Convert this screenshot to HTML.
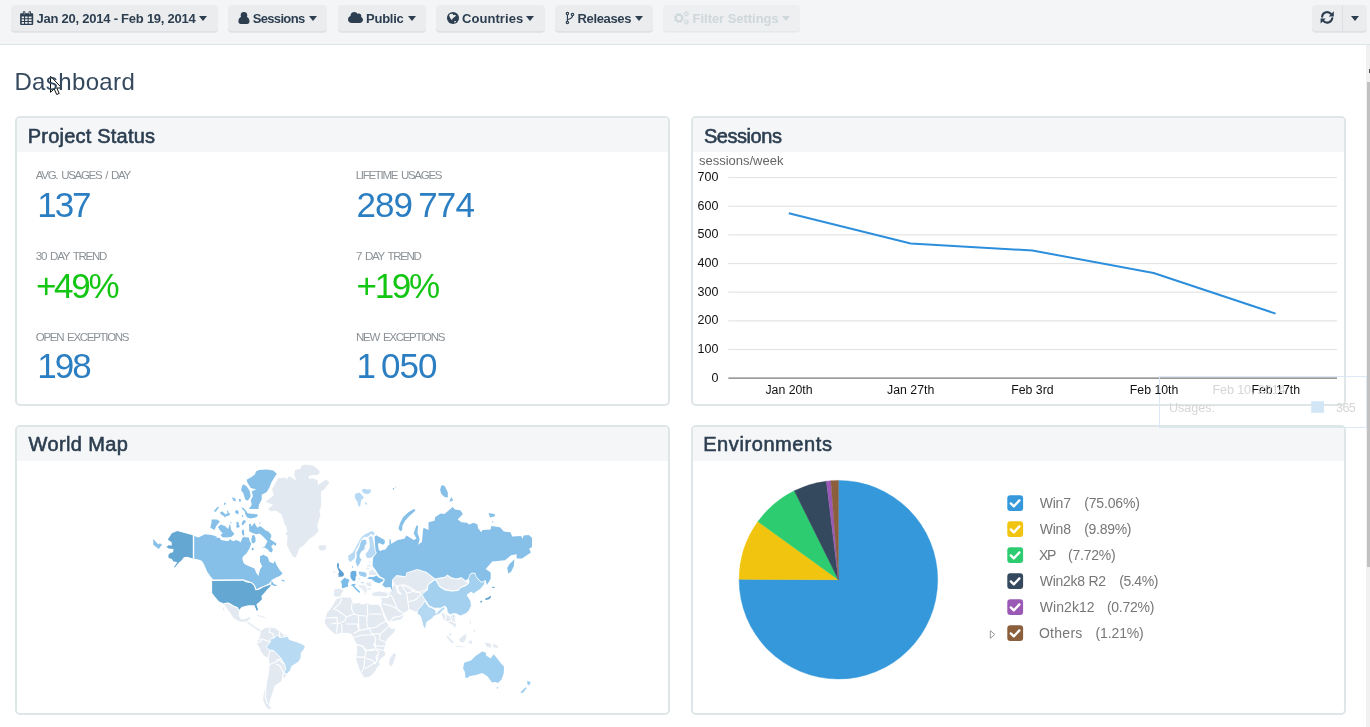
<!DOCTYPE html>
<html lang="en">
<head>
<meta charset="utf-8">
<title>Dashboard</title>
<style>
*{box-sizing:border-box;margin:0;padding:0}
html,body{width:1370px;height:727px;overflow:hidden;background:#fff}
body{font-family:"Liberation Sans","DejaVu Sans",sans-serif;color:#34495e;position:relative}
.t{position:absolute;white-space:pre}
#toolbar{position:absolute;left:0;top:0;width:1370px;height:45px;background:#f4f5f7;border-bottom:1px solid #dde5e7}
.btn{position:absolute;top:4.5px;height:26.3px;background:#ebecee;border-radius:4px;box-shadow:0 1.8px 0 #dfe1e5}
.ic{position:absolute;fill:#2c3e50;overflow:visible}
.caret{position:absolute;top:15.9px;width:0;height:0;border-left:4.3px solid transparent;border-right:4.3px solid transparent;border-top:5.2px solid #2c3e50;margin-left:-0.3px}
.panel{position:absolute;border:2px solid #dee6e8;border-radius:5px;background:#fff;width:654.6px;height:289.5px;overflow:hidden}
.panel .hd{position:absolute;left:0;top:0;right:0;height:34px;background:#f4f6f8}
</style>
</head>
<body>
<div class="panel" style="left:15px;top:116px"><div class="hd"></div></div>
<div class="panel" style="left:691px;top:116px"><div class="hd"></div></div>
<div class="panel" style="left:15px;top:425px"><div class="hd"></div></div>
<div class="panel" style="left:691px;top:425px"><div class="hd"></div></div>
<div id="toolbar">
<div class="btn" style="left:10.5px;width:207px"></div>
<div class="btn" style="left:228.2px;width:98.5px"></div>
<div class="btn" style="left:338.4px;width:87.3px"></div>
<div class="btn" style="left:436.4px;width:108.2px"></div>
<div class="btn" style="left:555.4px;width:97.5px"></div>
<div class="btn" style="left:663.3px;width:137.2px;background:#eeeff1;box-shadow:0 1.5px 0 #e6e8eb"></div>
<div class="btn" style="left:1312.2px;width:54.8px"></div>
<div style="position:absolute;left:1342.2px;top:4.5px;width:0.9px;height:26.3px;background:#dcdfe3"></div>
<!-- calendar -->
<svg class="ic" style="left:0;top:0;width:60px;height:40px" viewBox="0 0 60 40"><path fill-rule="evenodd" d="M20.1,14.3a1,1 0 0 1 1,-1h11.1a1,1 0 0 1 1,1v9.7a1,1 0 0 1 -1,1h-11.1a1,1 0 0 1 -1,-1zM21.7,16.4v1.9h2.3v-1.9zM25.1,16.4v1.9h2.5v-1.9zM28.7,16.4v1.9h2.9v-1.9zM21.7,19.2v1.9h2.3v-1.9zM25.1,19.2v1.9h2.5v-1.9zM28.7,19.2v1.9h2.9v-1.9zM21.7,22v1.7h2.3v-1.7zM25.1,22v1.7h2.5v-1.7zM28.7,22v1.7h2.9v-1.7z"/><rect x="22.9" y="11.2" width="2.4" height="4" rx="0.8"/><rect x="28.6" y="11.2" width="2.4" height="4" rx="0.8"/><rect x="23.8" y="12" width="0.6" height="2.4" fill="#ebecee"/><rect x="29.5" y="12" width="0.6" height="2.4" fill="#ebecee"/></svg>
<!-- user -->
<svg class="ic" style="left:230px;top:0;width:30px;height:40px" viewBox="230 0 30 40"><circle cx="243.95" cy="15.3" r="3.25"/><path d="M238.4,21.6c0,-2.9 1.3,-4.7 3.3,-4.9c.6,.6 1.4,.9 2.25,.9s1.65,-.3 2.25,-.9c2,.2 3.3,2 3.3,4.9c0,1.5 -1,2.4 -2.3,2.4h-6.5c-1.3,0 -2.3,-.9 -2.3,-2.4z"/></svg>
<!-- cloud -->
<svg class="ic" style="left:348.2px;top:11.9px;width:15px;height:11px" viewBox="0 32 576 448" preserveAspectRatio="none"><path d="M0 336c0 79.500 64.500 144 144 144h304c70.700 0 128-57.300 128-128 0-51.600-30.500-96.100-74.500-116.300 6.700-13.100 10.500-28 10.500-43.700 0-53-43-96-96-96-17.700 0-34.200 4.800-48.400 13.100C343.500 63.300 295.400 32 240 32 160.500 32 96 96.500 96 176c0 8 .7 15.900 1.900 23.500C41 218.700 0 272.600 0 336"/></svg>
<!-- globe -->
<svg class="ic" style="left:440px;top:0;width:30px;height:40px" viewBox="440 0 30 40"><circle cx="453" cy="18.05" r="6.05"/><path fill="#ebecee" d="M449.1,15.2L450.2,13.9L452.7,13.7L453.4,15.2L454.4,14.7L456.1,15.4L454.6,16.9L453.4,17.7L452.4,18.9L451.9,19.9L451.2,19.4L449.9,17.4ZM454.1,21.6L455.1,21L456.4,21.25L455.6,22.1L454.4,22.7Z"/><circle cx="453.4" cy="14.3" r="0.5"/></svg>
<!-- code fork -->
<svg class="ic" style="left:560px;top:0;width:20px;height:40px;fill:none" viewBox="560 0 20 40" stroke="#2c3e50" stroke-width="1.15" stroke-linecap="round"><path d="M567.4,14.8V21.2M572.5,15.8c0,2.7 -2.6,3 -5,3.9"/><circle cx="567.4" cy="13.5" r="1.2" fill="#ebecee"/><circle cx="567.4" cy="22.5" r="1.2" fill="#ebecee"/><circle cx="572.5" cy="14.5" r="1.2" fill="#ebecee"/></svg>
<!-- cogs (disabled) -->
<svg class="ic" style="left:670px;top:0;width:24px;height:40px;fill:none" viewBox="670 0 24 40" stroke="#cfd8db"><circle cx="678.9" cy="18" r="3.2" stroke-width="1.9"/><circle cx="678.9" cy="18" r="4.3" stroke-width="1.3" stroke-dasharray="1.7 1.677"/><circle cx="686.3" cy="13.9" r="1.6" stroke-width="1"/><circle cx="686.3" cy="13.9" r="2.3" stroke-width="0.9" stroke-dasharray="0.9 0.906"/><circle cx="686.3" cy="22" r="1.6" stroke-width="1"/><circle cx="686.3" cy="22" r="2.3" stroke-width="0.9" stroke-dasharray="0.9 0.906"/></svg>
<!-- refresh -->
<svg class="ic" style="left:1315px;top:0;width:24px;height:40px" viewBox="1315 0 24 40"><path fill="none" stroke="#2c3e50" stroke-width="2.1" stroke-linecap="round" d="M1322.1,16.6A5.15,5.15 0 0 1 1331.3,14.2M1332.3,18.2A5.15,5.15 0 0 1 1323.1,20.6"/><path d="M1333.8,11.3V16.4H1328.7ZM1320.6,23.6V18.5H1325.7Z"/></svg>
<div class="caret" style="left:198.8px"></div>
<div class="caret" style="left:308.8px"></div>
<div class="caret" style="left:407.8px"></div>
<div class="caret" style="left:526.5px"></div>
<div class="caret" style="left:634.8px"></div>
<div class="caret" style="left:782.7px;border-top-color:#ced7da"></div>
<div class="caret" style="left:1351.3px"></div>
</div>
<!-- scrollbar -->
<div style="position:absolute;left:1366px;top:45px;width:4px;height:682px;background:#f1f1f1"></div>
<div style="position:absolute;left:1367px;top:82px;width:3px;height:485px;background:#c1c1c1"></div>
<div style="position:absolute;left:1368.7px;top:69.3px;width:1.3px;height:4.2px;background:#505050"></div>
<svg style="position:absolute;left:0;top:0" width="1370" height="727" viewBox="0 0 1370 727">
<rect x="728.3" y="377.40" width="608.7" height="1.5" fill="#8f8f8f"/>
<rect x="728.3" y="348.93" width="608.7" height="1.2" fill="#e4e4e4"/>
<rect x="728.3" y="320.26" width="608.7" height="1.2" fill="#e4e4e4"/>
<rect x="728.3" y="291.59" width="608.7" height="1.2" fill="#e4e4e4"/>
<rect x="728.3" y="262.92" width="608.7" height="1.2" fill="#e4e4e4"/>
<rect x="728.3" y="234.25" width="608.7" height="1.2" fill="#e4e4e4"/>
<rect x="728.3" y="205.58" width="608.7" height="1.2" fill="#e4e4e4"/>
<rect x="728.3" y="176.91" width="608.7" height="1.2" fill="#e4e4e4"/>
<polyline fill="none" stroke="#2d8fdc" stroke-width="2" stroke-linejoin="round" points="788.8,213.2 910.7,243.5 1032.4,250.5 1153.6,273.0 1275.6,313.6"/>
<path d="M838.4,579.7L838.40,480.40A99.3,99.3 0 1 1 739.10,579.33Z" fill="#3498db" stroke="#3498db" stroke-width="0.4" stroke-linejoin="round"/>
<path d="M838.4,579.7L739.10,579.33A99.3,99.3 0 0 1 757.88,521.59Z" fill="#f1c40f" stroke="#f1c40f" stroke-width="0.4" stroke-linejoin="round"/>
<path d="M838.4,579.7L757.88,521.59A99.3,99.3 0 0 1 794.27,490.75Z" fill="#2ecc71" stroke="#2ecc71" stroke-width="0.4" stroke-linejoin="round"/>
<path d="M838.4,579.7L794.27,490.75A99.3,99.3 0 0 1 826.39,481.13Z" fill="#34495e" stroke="#34495e" stroke-width="0.4" stroke-linejoin="round"/>
<path d="M838.4,579.7L826.39,481.13A99.3,99.3 0 0 1 830.86,480.69Z" fill="#9b59b6" stroke="#9b59b6" stroke-width="0.4" stroke-linejoin="round"/>
<path d="M838.4,579.7L830.86,480.69A99.3,99.3 0 0 1 838.40,480.40Z" fill="#8b5e3c" stroke="#8b5e3c" stroke-width="0.4" stroke-linejoin="round"/>
<rect x="1007.3" y="495.2" width="15.8" height="15.8" rx="3" fill="#3498db"/>
<path d="M1010.8,503.4l3,3 5.6,-6" fill="none" stroke="#fff" stroke-width="2.3" stroke-linecap="round" stroke-linejoin="round"/>
<rect x="1007.3" y="521.2" width="15.8" height="15.8" rx="3" fill="#f1c40f"/>
<path d="M1010.8,529.4l3,3 5.6,-6" fill="none" stroke="#fff" stroke-width="2.3" stroke-linecap="round" stroke-linejoin="round"/>
<rect x="1007.3" y="547.2" width="15.8" height="15.8" rx="3" fill="#2ecc71"/>
<path d="M1010.8,555.4l3,3 5.6,-6" fill="none" stroke="#fff" stroke-width="2.3" stroke-linecap="round" stroke-linejoin="round"/>
<rect x="1007.3" y="573.2" width="15.8" height="15.8" rx="3" fill="#34495e"/>
<path d="M1010.8,581.4l3,3 5.6,-6" fill="none" stroke="#fff" stroke-width="2.3" stroke-linecap="round" stroke-linejoin="round"/>
<rect x="1007.3" y="599.2" width="15.8" height="15.8" rx="3" fill="#9b59b6"/>
<path d="M1010.8,607.4l3,3 5.6,-6" fill="none" stroke="#fff" stroke-width="2.3" stroke-linecap="round" stroke-linejoin="round"/>
<rect x="1007.3" y="625.2" width="15.8" height="15.8" rx="3" fill="#8b5e3c"/>
<path d="M1010.8,633.4l3,3 5.6,-6" fill="none" stroke="#fff" stroke-width="2.3" stroke-linecap="round" stroke-linejoin="round"/>
<path d="M990.3,630.6L994.8,634.5L990.3,638.4Z" fill="none" stroke="#9a9a9a" stroke-width="1"/>
<rect id="swatch" x="1311.2" y="401.2" width="12.8" height="11.6" fill="#d3e6f6"/>
<path id="cursor" d="M50.5,76.2V92.3l3.7,-3.4 2.5,5.6 2.5,-1.1 -2.4,-5.4h5z" fill="#fff" stroke="#111" stroke-width="1" stroke-linejoin="round"/>
</svg>
<div style="position:absolute;left:1159px;top:375.5px;width:207.5px;height:52px;border:1px solid #d6e7f4;opacity:.9"></div>
<svg style="position:absolute;left:0;top:0" width="1370" height="727" viewBox="0 0 1370 727" stroke="#fff" stroke-width="0.9" stroke-linejoin="round">
<path fill="#86c0e8" stroke="none" d="M255.9,471.6L258.9,469.9L266.7,469.4L273.3,470.5L276.8,473.8L274.4,477.6L271.6,482.0L269.4,487.5L266.7,491.9L261.7,494.7L261.7,499.6L258.9,505.1L258.4,509.0L249.0,509.0L251.8,504.6L250.7,500.2L252.9,496.3L251.8,491.4L256.2,489.2L250.7,488.1L247.4,482.6L246.6,479.8L252.3,476.5L255.1,474.3Z"/>
<path fill="#86c0e8" stroke="none" d="M243.5,484.2L246.8,486.4L249.6,490.8L250.7,496.3L247.9,500.7L245.2,499.6L243.5,493.6L241.1,490.3L241.9,486.4Z"/>
<path fill="#86c0e8" stroke="none" d="M232.0,497.2L235.3,498.5L235.8,501.6L233.1,500.5Z"/>
<path fill="#86c0e8" stroke="none" d="M238.9,499.1L240.8,499.1L240.8,501.8L239.1,501.6Z"/>
<path fill="#86c0e8" stroke="none" d="M224.0,502.9L225.9,502.4L225.4,504.6L224.0,504.9Z"/>
<path fill="#86c0e8" stroke="none" d="M213.6,511.2L217.7,506.8L219.1,507.3L215.8,511.7Z"/>
<path fill="#86c0e8" stroke="none" d="M211.6,519.4L217.1,519.6L219.9,521.6L216.6,525.5L214.4,529.9L210.3,527.7L211.4,523.3Z"/>
<path fill="#65a7d3" stroke="none" d="M177.3,530.9L192.8,535.3L192.8,558.4L187.2,556.8L183.9,557.2L181.4,560.5L178.5,563.0L174.8,567.5L174.1,567.1L177.3,562.2L173.1,561.3L171.9,558.9L168.6,558.0L168.3,555.1L170.2,553.1L173.1,552.3L173.5,548.9L168.6,548.5L166.5,546.9L168.6,545.2L171.9,545.6L171.6,542.3L167.8,539.5L171.9,533.3Z"/>
<path fill="#86c0e8" stroke="none" d="M153.3,539.0L158.3,544.4L159.9,543.2L162.0,544.8L158.7,548.9L153.3,544.8Z"/>
<path fill="#86c0e8" stroke="none" d="M194.2,536.0L198.4,537.6L205.0,534.3L211.6,534.9L217.1,536.5L215.0,537.2L220.0,538.0L220.8,540.1L228.2,541.3L230.3,538.9L231.5,540.5L234.0,541.3L235.6,540.1L238.9,540.9L240.6,542.6L242.3,538.0L244.3,536.4L245.6,537.6L246.8,537.2L248.9,537.6L249.7,541.3L251.3,543.4L249.7,547.9L246.8,552.9L243.1,556.6L242.3,558.7L243.5,562.8L244.6,564.0L249.0,566.2L254.5,568.4L256.2,572.8L258.4,576.1L260.0,569.5L262.2,566.2L260.0,561.8L260.0,556.3L263.3,554.7L267.8,556.9L269.4,561.8L273.3,563.5L274.9,560.7L276.6,565.1L279.3,569.5L282.6,573.4L279.9,576.1L276.6,577.2L271.6,580.0L269.4,583.3L264.4,586.0L258.4,588.2L256.2,589.3L255.1,586.0L252.3,582.7L246.8,580.5L243.5,579.4L213.3,579.4L211.1,577.2L207.2,571.7L203.9,564.0L201.7,560.7L198.4,559.6L194.2,558.7Z"/>
<path fill="#86c0e8" stroke="none" d="M241.0,507.5L243.5,507.9L246.0,510.8L247.6,513.3L251.3,513.7L257.1,514.2L257.9,516.1L255.5,517.4L250.5,518.6L247.2,517.4L245.6,514.9L244.7,511.6L242.3,509.1Z"/>
<path fill="#86c0e8" stroke="none" d="M235.2,510.8L237.3,510.0L238.9,512.0L238.1,514.5L236.6,513.7L235.2,512.8Z"/>
<path fill="#86c0e8" stroke="none" d="M220.0,512.4L222.0,511.2L225.7,514.5L227.4,513.3L227.0,510.4L228.2,510.8L228.6,513.3L230.3,513.3L229.5,515.3L225.7,516.6L224.1,517.8L224.5,516.6L221.2,514.5Z"/>
<path fill="#86c0e8" stroke="none" d="M241.8,515.3L243.1,515.1L243.1,517.0L242.1,516.7Z"/>
<path fill="#86c0e8" stroke="none" d="M217.9,526.9L220.8,524.4L224.9,526.1L228.2,528.9L229.5,524.4L230.3,524.8L231.1,529.8L234.4,533.9L231.5,536.8L226.6,537.6L222.4,537.2L220.4,534.7L222.8,533.5L220.0,530.6Z"/>
<path fill="#86c0e8" stroke="none" d="M236.3,521.9L238.5,521.9L238.9,524.4L239.8,526.6L238.1,528.0L236.1,526.9L236.6,524.8Z"/>
<path fill="#86c0e8" stroke="none" d="M242.7,520.7L244.7,519.9L246.0,521.5L243.5,524.8L241.8,525.6L241.8,523.6Z"/>
<path fill="#86c0e8" stroke="none" d="M230.3,522.2L231.5,522.2L231.5,523.3L230.3,523.3Z"/>
<path fill="#86c0e8" stroke="none" d="M259.2,522.5L260.4,522.2L260.3,523.6L259.3,523.7Z"/>
<path fill="#86c0e8" stroke="none" d="M248.9,524.4L250.5,523.6L251.7,526.5L253.4,524.0L254.6,522.8L255.9,525.6L257.5,527.7L260.0,526.1L262.9,528.1L265.4,530.2L268.7,531.8L271.2,534.7L271.2,537.2L269.9,538.9L276.5,543.4L275.7,545.9L273.2,544.2L271.2,546.3L272.8,549.6L272.0,552.5L269.5,551.7L267.8,549.6L264.5,547.5L261.2,547.5L264.5,546.7L265.8,544.6L267.4,541.3L264.5,538.0L261.2,534.7L259.2,533.5L256.7,534.3L253.8,533.5L249.3,531.4Z"/>
<path fill="#86c0e8" stroke="none" d="M242.3,529.4L243.9,529.8L244.3,534.7L243.1,536.0L241.6,533.1Z"/>
<path fill="#86c0e8" stroke="none" d="M252.2,535.6L254.2,535.1L255.5,538.0L255.5,541.3L253.8,543.4L251.7,542.6L251.3,539.7Z"/>
<path fill="#86c0e8" stroke="none" d="M251.3,548.8L252.6,547.5L254.2,549.6L252.2,550.4Z"/>
<path fill="#86c0e8" stroke="none" d="M271.6,580.5L273.8,583.8L277.7,586.0L274.4,586.0L271.1,584.4Z"/>
<path fill="#86c0e8" stroke="none" d="M281.5,579.4L284.8,580.5L284.3,581.8L281.5,580.5Z"/>
<path fill="#e2e9f1" stroke="none" d="M305.1,464.4L312.8,465.5L317.2,468.8L320.0,472.1L317.8,474.9L311.7,474.9L308.4,476.5L309.0,478.7L312.8,478.2L317.8,480.4L317.8,485.3L326.0,479.6L329.3,482.6L323.8,489.7L321.1,491.4L321.1,506.2L319.4,510.6L320.5,515.0L318.9,520.0L317.2,525.5L318.3,531.0L315.0,534.9L308.4,539.8L304.0,545.3L299.1,548.6L297.4,554.1L295.2,558.0L291.9,555.2L289.2,549.7L287.0,545.3L287.5,535.4L285.3,534.3L287.5,531.0L285.9,525.5L285.3,526.0L281.5,514.5L276.0,510.6L270.5,511.2L268.3,508.4L273.2,505.1L265.5,501.8L273.8,495.2L272.1,489.2L278.2,478.2L285.9,477.6L286.4,479.8L289.2,476.0L296.3,480.4L294.1,474.3L295.2,469.9L300.7,468.8L301.3,466.1Z"/>
<path fill="#b7d9f3" stroke="none" d="M354.9,494.1L359.6,492.5L364.0,497.4L361.2,500.2L360.1,506.8L358.5,506.2L357.4,501.8L354.9,498.0Z"/>
<path fill="#b7d9f3" stroke="none" d="M361.5,490.3L364.0,488.8L367.3,489.5L370.6,489.2L370.9,491.9L368.4,493.9L364.0,493.6Z"/>
<path fill="#b7d9f3" stroke="none" d="M365.1,501.8L367.0,503.5L366.5,504.9L365.1,504.0Z"/>
<path fill="#86c0e8" stroke="none" d="M392.6,488.1L394.3,488.1L393.7,490.3Z"/>
<path fill="#86c0e8" stroke="none" d="M395.1,486.6L396.0,487.3L395.4,488.1Z"/>
<path fill="#e2e9f1" stroke="none" d="M318.3,545.9L321.6,545.3L326.0,545.5L326.0,549.2L322.7,550.8L319.4,549.7Z"/>
<path fill="#e2e9f1" stroke="none" d="M336.4,599.3L341.9,597.6L350.7,597.6L352.4,601.5L354.0,603.7L359.0,603.1L362.8,604.8L367.2,603.1L370.0,604.8L378.2,604.8L380.4,606.4L382.1,611.9L383.7,617.4L385.9,621.3L389.2,626.2L391.4,629.0L395.3,628.4L394.2,631.7L390.3,636.1L387.0,638.9L385.9,642.2L384.8,646.0L383.7,650.4L384.8,652.6L385.4,651.0L385.4,651.0L384.8,655.4L380.4,658.7L378.8,661.5L379.9,664.8L377.1,667.0L376.0,669.7L372.7,674.1L368.9,676.9L364.5,677.4L362.8,675.2L360.1,670.8L357.3,663.1L356.0,658.7L357.3,652.1L356.8,646.6L357.3,644.9L355.1,641.1L353.5,637.2L351.8,633.9L347.4,632.8L341.9,632.8L335.3,633.9L332.0,631.7L327.6,627.3L324.9,622.9L325.4,618.0L327.6,611.9L330.9,608.6L333.7,603.7Z"/>
<path fill="#e2e9f1" stroke="none" d="M394.2,653.0L395.8,654.3L394.7,659.3L392.5,664.8L390.3,666.2L389.0,663.7L389.5,659.8L392.0,655.4Z"/>
<path fill="#e2e9f1" stroke="none" d="M260.7,631.6L264.9,628.0L270.3,627.4L275.7,628.6L279.3,631.6L282.3,633.6L288.8,636.4L289.4,639.4L296.6,641.8L302.6,644.2L305.2,646.5L304.4,648.9L301.4,652.5L300.8,658.5L298.4,662.1L291.8,666.3L290.0,670.5L286.4,674.1L285.2,677.1L282.3,677.7L281.1,681.3L277.5,683.7L274.5,686.1L272.7,692.0L271.5,695.6L269.7,701.6L268.5,705.2L271.5,708.8L267.9,708.8L264.9,704.6L263.1,699.2L263.7,694.4L266.1,684.9L268.5,675.3L269.7,664.5L268.5,657.9L264.3,656.1L261.3,651.9L259.5,647.7L257.1,644.2L258.3,639.4L260.1,635.8Z"/>
<path fill="#b9daf3" d="M270.3,638.8L273.9,638.2L277.2,635.2L279.9,637.6L288.2,636.4L289.2,639.4L296.6,641.8L302.6,644.2L305.2,646.5L304.4,648.9L301.4,652.5L300.8,658.5L298.4,662.1L291.8,666.3L290.4,670.5L286.4,674.3L283.5,672.3L285.8,669.3L284.6,664.5L281.1,658.5L277.5,654.3L273.9,650.7L269.7,650.1L266.1,647.7L268.5,644.2L270.3,641.8Z"/>
<path fill="#65a7d3" stroke="none" d="M212.1,580.5L242.7,580.1L246.0,581.6L251.5,582.7L254.3,585.4L255.9,589.8L258.7,589.3L263.6,586.5L268.0,584.9L270.8,583.8L270.2,586.5L266.9,589.8L264.2,593.1L261.4,595.9L262.0,599.2L258.7,602.5L255.9,604.7L257.0,607.4L257.9,610.2L256.5,610.2L255.4,606.9L254.3,605.2L248.2,605.2L241.6,606.9L238.9,610.2L237.2,607.4L233.9,606.3L228.4,603.0L224.0,603.6L219.1,601.4L215.2,597.0L212.1,593.1Z"/>
<path fill="#65a7d3" stroke="none" d="M255.3,604.8L256.4,604.6L258.0,609.8L256.7,610.4L255.5,607.2Z"/>
<path fill="#e2e9f1" stroke="none" d="M224.0,604.1L228.4,603.6L233.9,606.9L237.2,608.0L238.9,610.7L238.9,616.2L241.1,619.5L246.0,619.0L249.3,616.8L250.4,618.4L247.1,621.2L241.6,621.7L237.2,620.6L232.8,617.3L230.1,612.4L226.8,608.0Z"/>
<path fill="#e2e9f1" stroke="none" d="M222.4,607.4L223.5,608.0L224.6,610.9L223.6,610.5Z"/>
<path fill="#e9eef4" stroke="none" d="M246.6,621.7L249.3,622.3L253.2,625.0L257.0,627.8L261.4,630.3L260.9,631.6L257.0,630.0L251.5,626.3L248.2,623.9Z"/>
<path fill="#e9eef4" stroke="none" d="M257.0,614.9L261.4,615.7L265.8,617.5L265.3,618.4L260.9,617.1L257.0,616.0Z"/>
<path fill="#e2e9f1" d="M371.6,593.4L376.0,591.6L384.8,591.0L389.2,592.7L391.4,590.5L393.6,584.4L398.0,577.8L420.0,573.4L437.7,580.0L431.1,591.0L426.7,599.8L421.1,608.6L418.9,613.0L417.3,611.6L415.6,612.1L409.0,609.3L407.9,611.1L403.3,613.3L404.1,615.2L403.5,616.9L400.2,620.2L393.6,621.3L389.2,622.4L387.0,619.6L384.8,615.2L382.6,610.3L381.5,605.9L381.0,603.7L381.5,600.9L380.4,597.6L374.9,596.5L371.6,595.1Z"/>
<path fill="#ffffff" stroke="none" d="M396.2,608.1L398.0,611.0L401.9,612.9L403.5,613.6L403.1,612.4L398.7,609.5L396.9,607.5Z"/>
<path fill="#ffffff" stroke="none" d="M394.7,582.8L398.0,581.7L399.7,585.0L398.0,588.3L399.7,592.1L401.9,593.8L400.2,594.9L397.5,592.7L396.4,588.8L395.3,585.5Z"/>
<path fill="#e2e9f1" d="M392.2,579.5L396.6,575.7L405.4,576.8L406.5,572.9L417.5,569.4L423.0,571.3L426.3,572.4L434.6,579.0L428.0,584.5L426.9,589.4L420.8,591.6L415.3,592.7L412.0,590.0L406.5,587.2L401.0,585.0L396.6,586.1L393.3,582.8Z"/>
<path fill="#e2e9f1" d="M441.7,612.0L445.0,613.7L450.0,615.9L453.3,614.2L456.0,616.4L454.9,619.7L456.6,625.2L454.9,628.5L452.7,625.2L450.0,624.1L447.2,621.9L445.0,620.8L443.4,619.7L441.2,614.8Z"/>
<path fill="#e2e9f1" stroke="none" d="M449.2,633.5L450.5,633.1L451.4,635.7L450.0,636.0Z"/>
<path fill="#e2e9f1" stroke="none" d="M446.1,636.2L447.8,636.0L453.8,642.3L452.7,643.7L449.4,640.6Z"/>
<path fill="#e2e9f1" stroke="none" d="M458.8,639.5L462.6,636.2L466.5,633.5L465.9,638.4L463.7,642.8L460.4,641.7Z"/>
<path fill="#e2e9f1" stroke="none" d="M468.7,641.2L471.4,640.1L472.0,643.9L469.2,643.4Z"/>
<path fill="#e9eef4" stroke="none" d="M469.8,620.3L470.9,620.3L470.9,624.1L469.9,624.1Z"/>
<path fill="#e9eef4" stroke="none" d="M473.6,629.6L475.3,629.6L475.3,632.4L473.9,632.4Z"/>
<path fill="#e9eef4" stroke="none" d="M456.0,645.6L464.8,646.7L464.8,647.6L456.0,646.7Z"/>
<path fill="#e2e9f1" stroke="none" d="M484.6,642.8L490.7,643.4L491.0,647.8L486.8,646.7Z"/>
<path fill="#e2e9f1" stroke="none" d="M492.9,643.4L497.8,646.1L498.4,647.8L493.4,647.2Z"/>
<path fill="#b4d7f2" d="M417.5,610.4L420.8,606.5L423.0,603.8L424.7,601.0L426.3,602.7L428.0,606.0L433.5,608.7L435.7,610.4L436.2,613.7L438.4,610.9L442.3,607.6L444.5,606.5L445.0,608.7L441.7,611.5L440.1,613.7L437.3,614.8L433.5,616.4L432.4,618.6L426.9,621.9L425.8,626.9L424.7,629.1L423.0,625.8L421.4,619.7L420.3,615.9L417.0,613.7Z"/>
<path fill="#a3d0ef" d="M435.1,579.5L437.3,582.3L439.5,586.7L445.0,590.0L451.6,591.1L458.2,590.5L460.4,587.8L465.9,585.6L469.0,583.0L468.4,578.4L470.1,574.2L472.8,572.9L475.3,573.5L476.9,577.9L481.3,582.3L485.5,580.4L484.1,585.0L480.2,589.4L476.9,591.6L473.6,593.8L470.9,592.2L467.0,594.9L469.2,598.2L470.9,601.5L471.4,606.0L469.2,610.4L465.9,613.7L460.4,615.9L456.0,613.7L453.3,613.7L450.0,614.8L447.2,612.0L446.7,608.2L445.0,606.0L440.6,608.2L434.0,608.2L428.5,605.4L426.9,602.1L424.1,598.3L421.9,594.4L427.4,590.0L428.0,585.0Z"/>
<path fill="#a3d0ef" d="M452.2,615.1L454.4,614.8L455.1,616.4L453.3,617.7Z"/>
<path fill="#e2e9f1" d="M435.3,579.2L437.3,578.6L445.0,577.5L447.2,575.3L451.6,578.1L456.0,579.2L461.5,578.1L465.9,581.4L468.7,583.0L465.9,585.2L460.4,587.4L458.2,590.2L451.6,590.7L445.0,589.6L439.5,586.3L437.3,581.9Z"/>
<path fill="#86c0e8" stroke="none" d="M392.2,543.2L397.7,539.9L404.3,538.8L406.5,535.5L413.7,539.9L416.4,538.8L413.7,533.3L416.4,525.6L418.1,526.1L417.5,532.7L419.7,539.3L418.1,544.8L421.9,542.1L423.0,530.0L423.6,527.8L428.5,530.0L428.5,522.3L434.6,520.8L435.1,517.3L440.6,513.5L444.5,514.0L452.7,506.9L454.9,509.6L460.4,510.2L462.9,514.0L457.7,519.5L461.5,522.3L467.0,522.8L469.2,524.5L473.6,522.8L477.5,524.5L478.0,528.3L481.3,532.2L482.4,530.0L490.7,529.4L491.2,526.1L500.0,527.2L503.9,531.6L510.5,532.2L512.2,536.6L521.0,536.0L522.6,538.8L523.7,535.5L528.7,535.1L532.0,537.7L532.0,547.1L529.2,548.7L530.9,552.6L527.6,554.8L522.1,558.6L516.6,558.6L516.6,554.2L511.1,555.3L505.0,560.3L492.3,561.4L485.7,569.1L490.7,572.4L490.7,578.4L489.0,581.7L486.8,585.0L485.7,580.1L481.3,581.7L476.9,577.3L475.3,572.9L472.5,572.4L469.8,574.0L468.1,578.4L465.9,580.6L461.5,577.3L456.0,578.4L451.6,577.3L447.2,574.6L445.0,576.8L437.3,577.9L435.1,578.4L426.3,571.8L423.0,570.7L417.5,569.1L406.5,572.4L405.4,576.2L396.6,575.1L392.2,579.5L391.9,584.0L392.4,590.9L390.7,588.0L390.4,587.1L385.5,587.4L382.3,585.1L384.6,580.5L384.3,578.8L380.3,576.4L378.5,574.4L376.2,570.7L372.7,566.0L372.7,562.0L373.3,567.3L372.7,562.7L373.0,558.0L374.5,555.7L376.8,552.8L375.6,550.5L375.1,545.3L374.5,536.7L376.2,535.2L384.6,540.1L384.9,543.0L383.1,544.8L379.1,543.0L377.9,543.9L378.8,550.0L380.8,551.1L382.3,550.0L385.5,549.4L388.3,545.3L389.5,544.8L389.5,539.6L390.7,539.3L391.2,543.9L398.2,539.0Z"/>
<path fill="#86c0e8" stroke="none" d="M514.4,559.2L513.8,566.3L511.1,571.8L508.3,573.5L507.2,568.0L509.4,564.1L512.2,561.4Z"/>
<path fill="#86c0e8" stroke="none" d="M414.4,508.7L408.7,512.0L403.2,517.1L400.2,522.8L398.4,528.3L400.2,531.3L402.1,530.3L402.5,525.6L405.1,520.8L409.1,516.2L415.3,510.7Z"/>
<path fill="#86c0e8" stroke="none" d="M442.8,484.9L445.0,486.5L447.8,492.6L447.8,497.5L444.5,497.0L441.2,493.7L440.1,489.8L441.2,486.0Z"/>
<path fill="#86c0e8" stroke="none" d="M451.1,497.0L453.3,500.3L449.4,502.1Z"/>
<path fill="#86c0e8" stroke="none" d="M488.5,512.9L494.5,514.0L495.1,516.2L490.1,517.5Z"/>
<path fill="#86c0e8" stroke="none" d="M492.3,521.2L493.2,521.2L493.2,522.8L492.3,522.8Z"/>
<path fill="#5b9fce" stroke="none" d="M492.1,586.8L494.7,587.0L494.7,588.0L492.1,587.8Z"/>
<path fill="#5b9fce" stroke="none" d="M484.8,598.7L488.8,597.2L490.6,595.6L491.0,597.2L489.2,599.2L485.9,600.0Z"/>
<path fill="#5b9fce" stroke="none" d="M480.1,601.2L482.0,600.7L482.0,602.3L480.5,602.5Z"/>
<path fill="#e2e9f1" d="M371.3,594.1L373.9,592.0L379.1,590.9L384.9,592.0L388.3,593.8L388.9,595.5L385.5,596.7L379.1,597.2L374.5,596.7L371.6,595.5Z"/>
<path fill="#e2e9f1" d="M333.6,590.9L334.3,588.9L338.7,588.1L342.4,589.2L343.9,590.9L342.4,592.6L341.0,595.5L339.8,597.0L336.4,597.0L333.6,596.7Z"/>
<path fill="#e2e9f1" d="M365.8,582.2L370.4,581.9L371.6,584.0L371.9,586.3L369.3,586.8L366.7,585.7L365.5,584.0Z"/>
<path fill="#e9eef4" d="M357.7,584.8L362.4,584.2L365.2,585.1L367.0,587.4L367.6,590.9L366.1,592.9L366.1,595.8L364.7,595.5L364.1,592.0L361.2,589.2L358.9,586.8Z"/>
<path fill="#e2e9f1" d="M368.4,571.8L372.7,568.9L376.2,573.0L377.7,574.4L375.1,575.6L368.7,575.6Z"/>
<path fill="#e9eef4" stroke="none" d="M367.0,564.9L371.0,564.6L371.1,566.6L367.3,566.7Z"/>
<path fill="#e9eef4" stroke="none" d="M366.1,568.1L369.3,567.8L369.6,569.5L366.3,569.6Z"/>
<path fill="#e9eef4" stroke="none" d="M368.4,561.2L370.7,560.9L370.7,562.7L368.7,562.7Z"/>
<path fill="#e9eef4" stroke="none" d="M333.2,571.5L335.2,571.2L335.5,572.7L333.5,573.6Z"/>
<path fill="#b7d9f3" stroke="none" d="M372.2,531.0L374.5,532.9L374.2,534.6L373.0,535.8L372.5,534.4L370.4,534.1L369.3,535.8L367.0,537.0L364.7,536.7L362.9,538.1L361.5,539.8L358.9,544.8L355.4,551.1L355.4,553.4L354.8,558.0L353.1,560.1L350.2,562.1L348.5,559.8L348.2,555.7L353.1,552.3L357.2,544.8L360.0,539.6L362.1,536.7L364.7,534.6L369.9,532.0Z"/>
<path fill="#9dccee" d="M361.5,539.8L364.7,539.3L366.7,539.8L367.0,544.5L365.2,545.3L365.0,549.4L361.5,551.7L360.0,555.2L360.3,558.0L361.8,559.5L360.0,563.8L357.7,567.3L356.3,565.0L355.1,561.5L356.3,556.9L356.0,552.8L358.9,547.1L360.0,543.0Z"/>
<path fill="#b7d9f3" stroke="none" d="M370.4,536.1L372.2,536.7L373.0,539.6L373.9,545.3L374.8,550.5L375.9,552.8L373.9,555.2L371.6,557.5L367.6,558.3L366.1,556.3L365.5,554.3L368.1,551.1L369.9,547.1L369.3,539.6L368.4,538.1Z"/>
<path fill="#9dccee" stroke="none" d="M352.0,566.1L352.8,566.1L353.0,567.9L352.1,568.0Z"/>
<path fill="#5f9fd0" stroke="none" d="M337.2,563.4L338.7,563.0L339.0,565.5L338.7,567.5L340.1,569.2L342.4,571.8L343.9,573.3L343.6,575.9L341.6,576.7L339.2,576.7L338.4,577.3L338.7,575.3L338.1,573.6L339.2,572.4L338.4,570.1L337.2,567.5L336.9,565.2Z"/>
<path fill="#7bbbe8" d="M340.4,581.4L344.4,577.3L347.3,578.5L349.9,579.6L349.1,581.9L348.4,584.0L348.8,586.8L345.6,587.7L342.4,588.9L341.3,586.8L341.3,584.0L340.7,582.2Z"/>
<path fill="#6aaee0" d="M350.2,571.8L352.8,570.4L355.4,570.4L356.9,572.1L356.7,574.7L357.2,575.6L356.1,576.4L356.0,579.9L354.3,581.6L352.2,580.8L350.8,578.8L349.9,576.4Z"/>
<path fill="#9dccee" d="M358.3,572.1L359.5,571.0L362.9,571.5L366.7,572.4L367.0,575.3L366.1,577.6L362.9,577.0L359.8,575.9L358.6,574.1Z"/>
<path fill="#7bbbe8" d="M367.0,578.2L369.3,576.4L373.9,576.4L376.8,575.0L377.9,576.7L380.3,577.9L384.0,579.3L383.7,581.1L380.8,582.8L379.1,583.7L376.2,582.8L374.5,581.9L372.2,579.9L369.3,579.3L367.3,579.3Z"/>
<path fill="#7bbbe8" stroke="none" d="M350.5,585.1L353.1,584.0L355.7,583.7L355.4,584.8L354.3,585.7L356.0,587.7L358.3,590.0L360.0,591.5L359.8,592.9L357.7,591.5L355.4,589.2L353.1,586.6L352.2,585.7Z"/>
<path fill="#b7d9f3" d="M357.2,578.2L360.9,578.1L361.2,579.3L359.2,579.9L357.2,579.3Z"/>
<path fill="#9dccee" d="M356.3,581.6L358.6,581.1L358.9,582.2L356.6,582.8Z"/>
<path fill="#9dccee" d="M360.0,582.1L364.7,581.9L364.1,583.4L362.4,583.8L360.3,583.1Z"/>
<path fill="#9dccee" d="M367.6,588.3L370.7,588.0L371.0,589.2L369.3,590.0L367.8,589.4Z"/>
<path fill="#e2e9f1" stroke="none" d="M390.9,592.0L394.7,592.3L395.0,593.5L391.2,593.5Z"/>
<path fill="#9fcff0" stroke="none" d="M464.2,662.7L471.0,660.4L476.1,655.4L482.3,651.4L485.7,652.6L486.2,655.4L490.7,658.4L493.6,654.2L496.4,657.6L500.9,663.3L504.1,666.7L503.7,673.4L501.5,679.6L498.1,683.0L495.3,681.9L491.9,682.4L489.1,678.5L487.4,676.2L482.3,673.1L476.1,675.1L469.3,676.2L467.6,677.9L465.4,677.4L465.0,672.3L463.1,668.3Z"/>
<path fill="#9fcff0" stroke="none" d="M496.7,687.0L498.1,687.0L497.7,688.9L497.0,688.6Z"/>
<path fill="#9fcff0" stroke="none" d="M527.1,680.7L530.8,682.1L529.1,685.8L527.4,684.1Z"/>
<path fill="#9fcff0" stroke="none" d="M525.7,687.3L526.8,688.1L522.9,692.9L520.1,692.6Z"/>
<path fill="none" stroke-width="1.1" d="M341.9,598.2L339.7,603.7L333.7,609.2"/>
<path fill="none" stroke-width="1.1" d="M333.7,609.2L337.5,610.3L346.3,616.9L354.0,614.1"/>
<path fill="none" stroke-width="1.1" d="M352.4,601.5L351.3,608.6L354.0,614.1L358.4,615.2L367.2,616.3"/>
<path fill="none" stroke-width="1.1" d="M367.2,603.7L367.8,616.3"/>
<path fill="none" stroke-width="1.1" d="M369.4,614.1L381.5,614.1"/>
<path fill="none" stroke-width="1.1" d="M358.4,615.2L359.0,630.6"/>
<path fill="none" stroke-width="1.1" d="M367.2,616.3L366.7,624.0L368.3,628.4"/>
<path fill="none" stroke-width="1.1" d="M325.4,618.0L337.0,617.4L337.5,622.9L330.9,624.0"/>
<path fill="none" stroke-width="1.1" d="M346.3,616.9L345.2,620.7L337.5,624.0L336.4,632.8"/>
<path fill="none" stroke-width="1.1" d="M341.9,624.0L341.9,632.8"/>
<path fill="none" stroke-width="1.1" d="M346.3,624.0L357.3,624.0L359.0,630.6L353.5,633.4"/>
<path fill="none" stroke-width="1.1" d="M359.0,630.6L369.4,628.4L376.0,627.3L380.4,624.0L385.9,621.3"/>
<path fill="none" stroke-width="1.1" d="M369.4,628.4L371.6,633.9L380.4,633.9L389.2,626.2"/>
<path fill="none" stroke-width="1.1" d="M362.8,635.0L373.8,635.0L376.0,639.4L374.9,641.6L373.8,646.0"/>
<path fill="none" stroke-width="1.1" d="M353.5,637.2L362.8,635.0"/>
<path fill="none" stroke-width="1.1" d="M357.3,644.9L362.8,646.0L365.0,650.4L373.8,650.4"/>
<path fill="none" stroke-width="1.1" d="M380.4,633.9L379.3,639.4L385.9,642.2"/>
<path fill="none" stroke-width="1.1" d="M373.8,646.0L380.4,646.0L384.8,646.0"/>
<path fill="none" stroke-width="1.1" d="M374.9,596.5L387.0,597.6L390.9,594.9"/>
<path fill="none" stroke-width="1.1" d="M390.9,594.9L393.6,599.8L396.9,608.1"/>
<path fill="none" stroke-width="1.1" d="M382.6,603.7L391.4,605.9L396.4,608.6"/>
<path fill="none" stroke-width="1.1" d="M409.0,609.2L407.9,602.0L406.8,593.2"/>
<path fill="none" stroke-width="1.1" d="M407.9,602.0L415.6,599.8L421.1,593.8"/>
<path fill="none" stroke-width="1.1" d="M406.8,593.2L414.5,591.0"/>
<path fill="none" stroke-width="1.1" d="M401.3,585.0L406.8,593.2"/>
<path fill="none" stroke-width="1.1" d="M402.4,584.4L409.0,586.6L415.6,591.0L421.1,593.2"/>
<path fill="none" stroke-width="1.1" d="M389.2,622.4L393.6,617.4L400.2,616.3L403.5,614.1"/>
<path fill="none" stroke-width="1.1" d="M387.0,597.6L389.2,592.7"/>
<path fill="none" stroke-width="1.1" d="M356.2,657.1L365.0,657.1L366.1,651.0L373.8,648.8"/>
<path fill="none" stroke-width="1.1" d="M365.0,657.1L363.9,667.5L361.7,671.9"/>
<path fill="none" stroke-width="1.1" d="M365.0,668.6L376.0,662.0L378.2,656.5"/>
<path fill="none" stroke-width="1.1" d="M366.1,658.7L371.6,659.8L376.0,664.2"/>
<path fill="none" stroke-width="1.1" d="M373.8,648.8L378.2,651.0L378.8,654.3L376.0,656.5L377.1,662.0"/>
<path fill="none" stroke-width="1.1" d="M357.3,644.4L362.8,646.6L367.2,651.0"/>
<path fill="none" stroke-width="1.1" d="M374.9,642.2L376.0,648.8"/>
<path fill="none" stroke-width="1.1" d="M376.0,648.8L383.7,650.5"/>
<path fill="none" stroke-width="1.1" d="M270.3,627.4L269.1,632.2L272.7,633.4L273.9,638.2"/>
<path fill="none" stroke-width="1.1" d="M279.3,631.6L279.9,637.6"/>
<path fill="none" stroke-width="1.1" d="M283.5,633.4L284.6,637.0"/>
<path fill="none" stroke-width="1.1" d="M286.4,635.2L287.0,636.7"/>
<path fill="none" stroke-width="1.1" d="M258.3,639.4L261.9,638.8L266.1,640.6L270.3,641.8"/>
<path fill="none" stroke-width="1.1" d="M257.7,643.0L261.9,640.6"/>
<path fill="none" stroke-width="1.1" d="M268.5,657.9L269.7,650.7L273.9,650.7"/>
<path fill="none" stroke-width="1.1" d="M269.7,664.5L272.7,663.3L277.5,660.9L281.1,658.5"/>
<path fill="none" stroke-width="1.1" d="M276.3,663.9L279.9,665.7L283.5,672.3"/>
<path fill="none" stroke-width="1.1" d="M276.3,659.7L279.9,660.3L284.6,664.5"/>
<path fill="none" stroke-width="1.1" d="M269.1,664.5L267.3,675.3L266.1,684.9L265.3,696.8L267.3,704.0"/>
<path fill="none" stroke-width="1.1" d="M282.3,677.7L283.5,672.9L286.4,674.3"/>
<path fill="none" stroke-width="1.1" d="M445.0,613.7L446.1,617.5L445.0,620.8"/>
<path fill="none" stroke-width="1.1" d="M450.0,615.9L451.6,620.8L454.9,623.0"/>
<path fill="none" stroke-width="1.1" d="M447.2,621.9L451.6,620.8"/>
<path fill="none" stroke-width="1.1" d="M212.1,580.5L242.7,580.1L246.0,581.6L251.5,582.7L254.3,585.4L255.9,589.8L258.7,589.3L263.6,586.5L268.0,584.9L270.8,583.8"/>
<path fill="none" stroke-width="1.1" d="M224.0,603.6L228.4,603.0L233.9,606.3L237.2,607.4L238.9,610.2"/>
</svg>

<!-- text -->
<span class="t" style="top:10.60px;font-size:13px;line-height:16px;color:#2c3e50;font-weight:bold;left:36.54px;letter-spacing:-0.239px;">Jan 20, 2014 - Feb 19, 2014</span>
<span class="t" style="top:10.60px;font-size:13px;line-height:16px;color:#2c3e50;font-weight:bold;left:252.64px;letter-spacing:-0.651px;">Sessions</span>
<span class="t" style="top:10.60px;font-size:13px;line-height:16px;color:#2c3e50;font-weight:bold;left:366.02px;letter-spacing:-0.243px;">Public</span>
<span class="t" style="top:10.60px;font-size:13px;line-height:16px;color:#2c3e50;font-weight:bold;left:461.92px;letter-spacing:0.084px;">Countries</span>
<span class="t" style="top:10.60px;font-size:13px;line-height:16px;color:#2c3e50;font-weight:bold;left:577.46px;letter-spacing:-0.344px;">Releases</span>
<span class="t" style="top:10.60px;font-size:13px;line-height:16px;color:#ced7da;font-weight:bold;left:692.60px;letter-spacing:-0.042px;">Filter Settings</span>
<span class="t" style="top:66.68px;font-size:24px;line-height:29px;color:#34495e;left:14.40px;letter-spacing:0.372px;">Dashboard</span>
<span class="t" style="top:123.87px;font-size:20px;line-height:24px;color:#2c3e50;left:27.74px;letter-spacing:0.211px;-webkit-text-stroke:0.6px currentColor;">Project Status</span>
<span class="t" style="top:123.87px;font-size:20px;line-height:24px;color:#2c3e50;left:704.00px;letter-spacing:-0.465px;-webkit-text-stroke:0.6px currentColor;">Sessions</span>
<span class="t" style="top:431.87px;font-size:20px;line-height:24px;color:#2c3e50;left:28.54px;letter-spacing:0.379px;-webkit-text-stroke:0.6px currentColor;">World Map</span>
<span class="t" style="top:431.87px;font-size:20px;line-height:24px;color:#2c3e50;left:703.20px;letter-spacing:0.584px;-webkit-text-stroke:0.6px currentColor;">Environments</span>
<span class="t" style="top:168.42px;font-size:11.5px;line-height:14px;color:#8b9196;left:35.82px;letter-spacing:-1.299px;word-spacing:2px;">AVG. USAGES / DAY</span>
<span class="t" style="top:168.42px;font-size:11.5px;line-height:14px;color:#8b9196;left:355.74px;letter-spacing:-1.300px;word-spacing:2px;">LIFETIME USAGES</span>
<span class="t" style="top:249.32px;font-size:11.5px;line-height:14px;color:#8b9196;left:35.82px;letter-spacing:-1.239px;word-spacing:2px;">30 DAY TREND</span>
<span class="t" style="top:249.32px;font-size:11.5px;line-height:14px;color:#8b9196;left:356.10px;letter-spacing:-1.300px;word-spacing:2px;">7 DAY TREND</span>
<span class="t" style="top:330.22px;font-size:11.5px;line-height:14px;color:#8b9196;left:35.82px;letter-spacing:-1.300px;word-spacing:2px;">OPEN EXCEPTIONS</span>
<span class="t" style="top:330.22px;font-size:11.5px;line-height:14px;color:#8b9196;left:356.10px;letter-spacing:-1.300px;word-spacing:2px;">NEW EXCEPTIONS</span>
<span class="t" style="top:183.67px;font-size:35px;line-height:42px;color:#2b7ec1;left:37.22px;letter-spacing:-2.043px;">137</span>
<span class="t" style="top:183.67px;font-size:35px;line-height:42px;color:#2b7ec1;left:356.38px;letter-spacing:-0.919px;word-spacing:-2.5px;">289 774</span>
<span class="t" style="top:264.57px;font-size:35px;line-height:42px;color:#14c614;left:35.94px;letter-spacing:-2.275px;">+49%</span>
<span class="t" style="top:264.57px;font-size:35px;line-height:42px;color:#14c614;left:356.48px;letter-spacing:-2.275px;">+19%</span>
<span class="t" style="top:345.17px;font-size:35px;line-height:42px;color:#2b7ec1;left:37.22px;letter-spacing:-1.953px;">198</span>
<span class="t" style="top:345.17px;font-size:35px;line-height:42px;color:#2b7ec1;left:356.50px;letter-spacing:-1.038px;word-spacing:-2.5px;">1 050</span>
<span class="t" style="top:153.00px;font-size:13px;line-height:16px;color:#666;left:698.92px;">sessions/week</span>
<span class="t" style="top:370.67px;font-size:12.5px;line-height:15px;color:#111;right:651.60px;">0</span>
<span class="t" style="top:342.00px;font-size:12.5px;line-height:15px;color:#111;right:651.60px;">100</span>
<span class="t" style="top:313.33px;font-size:12.5px;line-height:15px;color:#111;right:651.60px;">200</span>
<span class="t" style="top:284.66px;font-size:12.5px;line-height:15px;color:#111;right:651.60px;">300</span>
<span class="t" style="top:255.99px;font-size:12.5px;line-height:15px;color:#111;right:651.60px;">400</span>
<span class="t" style="top:227.32px;font-size:12.5px;line-height:15px;color:#111;right:651.60px;">500</span>
<span class="t" style="top:198.65px;font-size:12.5px;line-height:15px;color:#111;right:651.60px;">600</span>
<span class="t" style="top:169.98px;font-size:12.5px;line-height:15px;color:#111;right:651.60px;">700</span>
<span class="t" style="top:382.94px;font-size:12.3px;line-height:15px;color:#111;left:765.41px;">Jan 20th</span>
<span class="t" style="top:382.94px;font-size:12.3px;line-height:15px;color:#111;left:887.11px;">Jan 27th</span>
<span class="t" style="top:382.94px;font-size:12.3px;line-height:15px;color:#111;left:1011.20px;">Feb 3rd</span>
<span class="t" style="top:382.94px;font-size:12.3px;line-height:15px;color:#111;left:1129.83px;">Feb 10th</span>
<span class="t" style="top:382.94px;font-size:12.3px;line-height:15px;color:#111;left:1251.53px;">Feb 17th</span>
<span class="t" style="top:382.73px;font-size:12.6px;line-height:15px;color:#d6d6d6;left:1212.40px;letter-spacing:-0.094px;">Feb 10, 2014</span>
<span class="t" style="top:400.93px;font-size:12.6px;line-height:15px;color:#d6d6d6;left:1169.00px;letter-spacing:-0.051px;">Usages:</span>
<span class="t" style="top:400.93px;font-size:12.6px;line-height:15px;color:#d6d6d6;left:1336.00px;letter-spacing:-0.608px;">365</span>
<span class="t" style="top:494.75px;font-size:14px;line-height:17px;color:#777;left:1039.72px;letter-spacing:-0.209px;">Win7</span>
<span class="t" style="top:494.75px;font-size:14px;line-height:17px;color:#777;left:1084.20px;letter-spacing:-0.159px;">(75.06%)</span>
<span class="t" style="top:520.75px;font-size:14px;line-height:17px;color:#777;left:1039.72px;letter-spacing:-0.209px;">Win8</span>
<span class="t" style="top:520.75px;font-size:14px;line-height:17px;color:#777;left:1084.20px;letter-spacing:-0.282px;">(9.89%)</span>
<span class="t" style="top:546.75px;font-size:14px;line-height:17px;color:#777;left:1038.92px;letter-spacing:-1.300px;">XP</span>
<span class="t" style="top:546.75px;font-size:14px;line-height:17px;color:#777;left:1068.02px;letter-spacing:-0.222px;">(7.72%)</span>
<span class="t" style="top:572.75px;font-size:14px;line-height:17px;color:#777;left:1039.72px;letter-spacing:-0.264px;">Win2k8 R2</span>
<span class="t" style="top:572.75px;font-size:14px;line-height:17px;color:#777;left:1119.28px;letter-spacing:-0.431px;">(5.4%)</span>
<span class="t" style="top:598.75px;font-size:14px;line-height:17px;color:#777;left:1039.72px;letter-spacing:0.072px;">Win2k12</span>
<span class="t" style="top:598.75px;font-size:14px;line-height:17px;color:#777;left:1106.92px;letter-spacing:-0.265px;">(0.72%)</span>
<span class="t" style="top:624.75px;font-size:14px;line-height:17px;color:#777;left:1038.92px;letter-spacing:0.285px;">Others</span>
<span class="t" style="top:624.75px;font-size:14px;line-height:17px;color:#777;left:1095.56px;letter-spacing:-0.132px;">(1.21%)</span>
</body>
</html>
